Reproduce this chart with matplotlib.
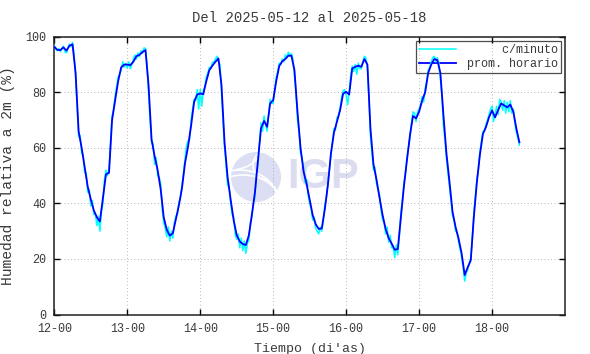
import matplotlib
matplotlib.use("Agg")
import matplotlib.pyplot as plt
from matplotlib.patches import Ellipse, Arc
import numpy as np

# promedio horario (%), una fila por dia, desde 2025-05-12 00h
horario_12 = [96.4, 95.3, 95.2, 96.2, 95.0, 96.8, 97.3, 87.0, 66.0, 60.0, 53.0, 46.0,
              41.5, 37.5, 35.0, 33.5, 42.0, 50.5, 51.0, 70.0, 77.0, 84.0, 89.0, 90.0]
horario_13 = [90.0, 89.8, 91.0, 93.0, 93.5, 94.5, 95.2, 82.6, 63.0, 57.0, 52.0, 45.0,
              35.0, 30.5, 28.4, 29.3, 34.4, 39.4, 45.5, 54.5, 60.5, 68.0, 76.6, 79.2]
horario_14 = [79.6, 79.3, 84.0, 88.0, 89.6, 91.0, 92.2, 82.6, 62.0, 49.5, 41.5, 34.0,
              28.6, 26.3, 25.4, 25.0, 28.5, 36.0, 44.0, 55.5, 67.0, 69.7, 67.6, 76.0]
horario_15 = [77.2, 84.0, 89.5, 91.2, 92.0, 93.2, 93.2, 88.0, 73.0, 60.0, 51.5, 47.0,
              41.5, 35.8, 32.5, 30.8, 31.0, 38.0, 46.6, 58.0, 65.5, 69.5, 73.5, 79.5]
horario_16 = [80.2, 79.2, 88.6, 89.2, 89.6, 89.2, 92.0, 90.0, 67.0, 54.0, 48.5, 42.0,
              35.8, 30.8, 27.5, 25.5, 23.3, 23.6, 35.0, 46.0, 55.5, 64.6, 71.5, 70.6]
horario_17 = [73.0, 77.0, 80.0, 87.0, 90.0, 92.0, 91.6, 87.0, 72.0, 58.0, 47.8, 37.0,
              31.5, 27.3, 22.0, 14.2, 17.0, 19.5, 35.0, 47.5, 57.5, 65.0, 67.5, 71.0]
horario_18 = [73.5, 71.0, 73.6, 76.0, 75.3, 74.6, 75.6, 73.0, 67.0, 62.0]

# datos por minuto, leidos cada media hora
minuto_12 = [96.8, 95.6, 95.0, 95.8, 94.6, 95.9, 96.6, 94.6, 94.2, 96.1, 97.4, 96.4,
             98.0, 93.5, 86.0, 75.0, 64.0, 64.5, 58.0, 57.5, 51.0, 51.0, 44.0, 45.0,
             39.0, 41.0, 36.0, 36.5, 32.0, 35.5, 30.0, 37.0, 40.0, 48.5, 52.0, 50.0,
             52.5, 62.0, 71.5, 74.0, 78.5, 82.0, 85.5, 86.5, 88.0, 91.0, 89.0, 90.5]
minuto_13 = [88.8, 91.0, 88.5, 90.0, 92.0, 93.5, 92.0, 94.2, 92.8, 95.0, 94.0, 96.0,
             95.8, 90.0, 80.0, 70.0, 62.0, 61.5, 54.0, 56.5, 50.0, 49.5, 47.0, 38.0,
             33.0, 31.0, 28.0, 31.5, 26.5, 30.0, 27.5, 33.0, 35.5, 36.0, 40.5, 42.0,
             46.5, 51.0, 56.0, 61.0, 62.5, 63.0, 70.0, 74.0, 77.5, 77.0, 81.0, 74.0]
minuto_14 = [81.0, 75.0, 80.5, 82.0, 85.5, 87.0, 89.0, 88.5, 90.8, 91.0, 92.0, 93.0,
             91.0, 90.0, 80.0, 70.0, 60.0, 54.0, 46.5, 46.0, 40.0, 36.0, 35.0, 29.0,
             27.0, 29.0, 24.0, 27.5, 23.0, 26.5, 22.0, 25.5, 27.0, 33.0, 35.0, 40.0,
             42.0, 51.0, 54.0, 62.0, 69.0, 66.0, 71.5, 68.5, 66.0, 72.0, 77.5, 76.0]
minuto_15 = [76.0, 81.0, 85.5, 87.5, 90.5, 90.0, 92.0, 91.0, 93.5, 92.5, 94.5, 93.0,
             94.0, 92.0, 86.0, 80.0, 70.0, 66.0, 58.0, 56.5, 53.0, 47.5, 48.5, 43.0,
             40.0, 38.0, 34.0, 35.0, 31.0, 30.0, 29.0, 31.5, 30.0, 34.0, 39.5, 42.0,
             47.5, 52.0, 57.0, 62.0, 67.0, 66.5, 71.0, 71.5, 74.5, 78.0, 80.5, 81.0]
minuto_16 = [79.0, 75.5, 80.5, 86.0, 89.5, 87.5, 90.0, 86.5, 90.5, 88.5, 88.5, 91.0,
             93.0, 92.5, 89.0, 78.0, 64.0, 58.0, 52.0, 53.0, 47.0, 45.0, 43.0, 37.5,
             34.0, 33.0, 29.0, 31.5, 26.0, 28.5, 24.0, 24.0, 20.5, 25.0, 21.5, 28.0,
             36.5, 41.0, 47.0, 51.0, 56.5, 60.0, 63.5, 69.0, 73.0, 72.5, 69.5, 73.0]
minuto_17 = [74.0, 75.5, 78.5, 76.5, 81.5, 84.0, 88.0, 89.0, 91.0, 92.5, 93.0, 91.0,
             92.5, 90.5, 85.0, 79.0, 68.0, 63.0, 56.0, 51.0, 46.0, 41.0, 35.5, 34.0,
             30.0, 29.5, 26.0, 23.5, 20.5, 17.0, 12.0, 15.0, 16.0, 18.5, 20.5, 27.0,
             36.0, 42.5, 48.5, 52.0, 58.5, 62.5, 66.0, 66.0, 68.5, 70.0, 72.0, 74.0]
minuto_18 = [75.0, 69.5, 72.0, 75.0, 72.0, 77.5, 76.5, 73.5, 77.0, 72.5, 76.5, 73.0,
             77.0, 72.5, 74.0, 69.0, 65.5, 63.5, 61.0]

tick_labels = ["12-00", "13-00", "14-00", "15-00", "16-00", "17-00", "18-00"]

horario = horario_12 + horario_13 + horario_14 + horario_15 + horario_16 + horario_17 + horario_18
minuto = minuto_12 + minuto_13 + minuto_14 + minuto_15 + minuto_16 + minuto_17 + minuto_18
t_hor = np.arange(len(horario)) / 24.0
t_min = np.arange(len(minuto)) / 48.0

txt = "#3a3a3a"
plt.rcParams["font.family"] = ["Liberation Mono", "DejaVu Sans Mono"]

fig = plt.figure(figsize=(5.9, 3.54), dpi=100)
ax = fig.add_axes([54.3 / 590, 1 - 314.5 / 354, (565 - 54.3) / 590, (314.5 - 36.8) / 354])

# marca de agua IGP
ax.add_patch(Ellipse((256 / 590, 1 - 177 / 354), 50 / 590, 50 / 354,
                     transform=fig.transFigure, facecolor="#dcdff3", edgecolor="none", zorder=0.5))
for (cx, cy, w, h, a1, a2) in [(243, 200, 70, 50, 20, 110), (240, 205, 80, 70, 30, 100),
                               (268, 165, 30, 30, 90, 270), (230, 150, 60, 40, 280, 350)]:
    ax.add_patch(Arc((cx / 590, 1 - cy / 354), w / 590, h / 354, theta1=a1, theta2=a2,
                     transform=fig.transFigure, color="white", lw=1.2, zorder=0.6))
ax.text(323 / 590, 1 - 177 / 354, "IGP", transform=fig.transFigure, ha="center", va="center",
        fontsize=30, fontweight="bold", family="Liberation Sans", color="#dcdcf0", zorder=0.7)

ax.plot(t_min, minuto, color="#00ffff", lw=1.1, label="     c/minuto", zorder=4)
ax.plot(t_hor, horario, color="#0000ff", lw=1.3, label="prom. horario", zorder=5)

ax.set_xlim(0, 7)
ax.set_ylim(0, 100)
ax.set_xticks(range(7))
ax.set_xticklabels(tick_labels)
ax.set_yticks([0, 20, 40, 60, 80, 100])
ax.tick_params(direction="in", length=4.5, width=1.0, top=True, right=True,
               labelsize=8.5, labelcolor=txt, pad=6)
ax.grid(True, linestyle=(0, (1, 3)), color="#a0a0a0", lw=0.6)
for s in ax.spines.values():
    s.set_linewidth(1.1)
    s.set_color("#202020")

ax.set_title("Del 2025-05-12 al 2025-05-18", fontsize=10, color=txt, pad=11)
ax.set_xlabel("Tiempo (di'as)", fontsize=9.5, color=txt, labelpad=6)
ax.set_ylabel("Humedad relativa a 2m (%)", fontsize=10.5, color=txt, labelpad=7)

leg = ax.legend(loc="upper right", bbox_to_anchor=((561 - 54.3) / 510.7, (314.5 - 41) / 277.7),
                borderaxespad=0, fontsize=8.5, frameon=True, fancybox=False,
                handlelength=3.2, handletextpad=0.9, labelspacing=0.15, borderpad=0.25)
leg.get_frame().set_edgecolor("#202020")
leg.get_frame().set_linewidth(0.9)
leg.get_frame().set_facecolor("none")
leg.set_zorder(3)
for t in leg.get_texts():
    t.set_color(txt)

fig.savefig("out.png", dpi=100)
